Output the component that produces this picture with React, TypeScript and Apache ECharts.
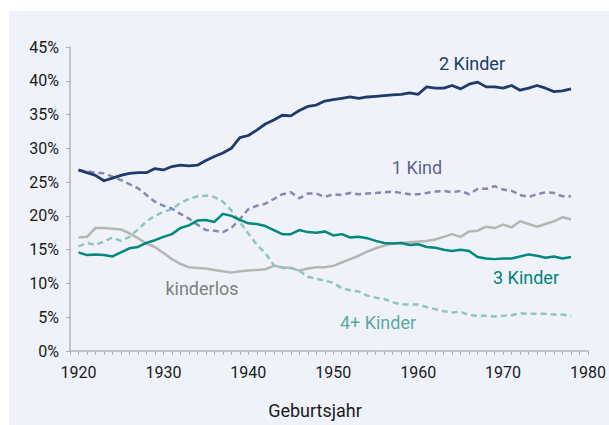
import React, { useEffect, useRef } from "react";
import * as echarts from "echarts";

const years: number[] = [];
for (let y = 1920; y <= 1978; y++) years.push(y);

const twoKinder = [
  26.8, 26.4, 26.0, 25.2, 25.6, 26.0, 26.3, 26.4, 26.4, 27.0,
  26.8, 27.3, 27.5, 27.4, 27.5, 28.2, 28.8, 29.3, 30.0, 31.6,
  31.9, 32.7, 33.6, 34.2, 34.9, 34.8, 35.6, 36.2, 36.4, 37.0,
  37.2, 37.4, 37.6, 37.4, 37.6, 37.7, 37.8, 37.9, 38.0, 38.2,
  38.0, 39.1, 38.9, 38.9, 39.3, 38.8, 39.5, 39.8, 39.1, 39.1,
  38.9, 39.3, 38.6, 38.9, 39.3, 38.9, 38.4, 38.5, 38.8,
];
const oneKind = [
  26.7, 26.6, 26.4, 26.3, 25.8, 25.3, 24.7, 24.1, 23.1, 22.1,
  21.5, 21.1, 20.3, 19.6, 18.7, 17.9, 17.8, 17.6, 18.2, 19.5,
  21.0, 21.5, 21.8, 22.5, 23.2, 23.5, 22.6, 23.3, 23.3, 22.8,
  23.2, 23.1, 23.4, 23.2, 23.3, 23.4, 23.5, 23.6, 23.4, 23.2,
  23.2, 23.4, 23.6, 23.7, 23.5, 23.7, 23.2, 24.0, 24.0, 24.4,
  23.9, 23.7, 23.1, 22.8, 23.2, 23.5, 23.4, 22.9, 22.9,
];
const threeKinder = [
  14.6, 14.2, 14.3, 14.2, 14.0, 14.6, 15.2, 15.4, 16.0, 16.4,
  16.9, 17.3, 18.2, 18.6, 19.3, 19.4, 19.1, 20.3, 20.0, 19.4,
  18.9, 18.8, 18.5, 17.9, 17.3, 17.3, 17.9, 17.6, 17.5, 17.7,
  17.1, 17.3, 16.8, 16.9, 16.7, 16.3, 16.0, 15.9, 16.0, 15.7,
  15.8, 15.4, 15.3, 15.0, 14.8, 15.0, 14.8, 13.9, 13.7, 13.6,
  13.7, 13.7, 14.0, 14.3, 14.1, 13.8, 14.0, 13.7, 13.9,
];
const fourPlusKinder = [
  15.5, 16.0, 15.7, 16.2, 16.8, 16.3, 16.9, 18.0, 19.2, 20.0,
  20.6, 21.0, 21.9, 22.5, 22.9, 23.0, 22.8, 22.1, 20.8, 19.1,
  17.4, 15.7, 14.5, 12.7, 12.3, 12.3, 11.9, 11.0, 10.7, 10.4,
  10.1, 9.3, 9.0, 8.8, 8.2, 7.9, 7.7, 7.2, 6.9, 6.9,
  6.9, 6.5, 6.2, 5.9, 5.7, 5.8, 5.3, 5.2, 5.2, 5.1,
  5.2, 5.3, 5.6, 5.5, 5.5, 5.5, 5.4, 5.4, 5.2,
];
const kinderlos = [
  16.8, 16.9, 18.2, 18.2, 18.1, 18.0, 17.4, 16.7, 15.9, 15.4,
  14.5, 13.6, 12.9, 12.4, 12.3, 12.2, 12.0, 11.8, 11.6, 11.8,
  11.9, 12.0, 12.1, 12.6, 12.4, 12.3, 11.9, 12.2, 12.4, 12.4,
  12.6, 13.1, 13.6, 14.1, 14.7, 15.2, 15.6, 15.9, 16.0, 16.1,
  16.2, 16.3, 16.5, 16.9, 17.3, 16.9, 17.7, 17.8, 18.4, 18.2,
  18.7, 18.3, 19.2, 18.8, 18.4, 18.8, 19.2, 19.8, 19.5,
];

const FONT = "Roboto, 'Noto Sans', sans-serif";
const AXIS_GRAY = "#b3b3b3";

const toPairs = (vals: number[]) => vals.map((v, i) => [years[i], v]);

export default function App() {
  const ref = useRef<HTMLDivElement>(null);
  useEffect(() => {
    document.body.style.margin = "0";
    if (!ref.current) return;
    const chart = echarts.init(ref.current, undefined, { renderer: "svg" });
    const lineSeries = (
      name: string,
      vals: number[],
      color: string,
      width: number,
      dashed: boolean,
      z: number
    ) => ({
      name,
      type: "line",
      data: toPairs(vals),
      showSymbol: false,
      symbol: "none",
      z,
      lineStyle: { color, width, type: dashed ? [6, 4] : "solid", cap: "butt", join: "round" },
    });
    chart.setOption({
      animation: false,
      backgroundColor: "#ffffff",
      textStyle: { fontFamily: FONT },
      grid: { left: 70, right: 18, top: 47, bottom: 74, containLabel: false },
      xAxis: {
        type: "value",
        min: 1919,
        max: 1980,
        interval: 1,
        axisLine: { show: true, lineStyle: { color: AXIS_GRAY, width: 1.5 } },
        axisTick: { show: true, length: 4, lineStyle: { color: AXIS_GRAY, width: 1 } },
        axisLabel: {
          color: "#1a1a1a",
          fontSize: 16,
          fontFamily: FONT,
          margin: 13,
          formatter: (v: number) => (v % 10 === 0 ? String(v) : ""),
        },
        splitLine: { show: false },
      },
      yAxis: {
        type: "value",
        min: 0,
        max: 45,
        interval: 5,
        axisLine: { show: true, lineStyle: { color: AXIS_GRAY, width: 1.5 } },
        axisTick: { show: true, length: 4, lineStyle: { color: AXIS_GRAY, width: 1 } },
        axisLabel: {
          color: "#1a1a1a",
          fontSize: 16,
          fontFamily: FONT,
          margin: 11,
          formatter: "{value}%",
        },
        splitLine: { show: false },
      },
      graphic: [
        {
          type: "rect",
          z: -100,
          silent: true,
          shape: { x: 9, y: 11, width: 600, height: 414 },
          style: { fill: "#eff3f9" },
        },
        {
          type: "text",
          x: 315,
          y: 410,
          style: { text: "Geburtsjahr", fill: "#1a1a1a", font: `18px ${FONT}`, align: "center", verticalAlign: "middle" },
        },
        {
          type: "text",
          x: 472,
          y: 63,
          style: { text: "2 Kinder", fill: "#203a6c", font: `18px ${FONT}`, align: "center", verticalAlign: "middle" },
        },
        {
          type: "text",
          x: 417,
          y: 167,
          style: { text: "1 Kind", fill: "#5d6492", font: `18px ${FONT}`, align: "center", verticalAlign: "middle" },
        },
        {
          type: "text",
          x: 526,
          y: 277,
          style: { text: "3 Kinder", fill: "#00857a", font: `18px ${FONT}`, align: "center", verticalAlign: "middle" },
        },
        {
          type: "text",
          x: 378,
          y: 322,
          style: { text: "4+ Kinder", fill: "#5ca99f", font: `18px ${FONT}`, align: "center", verticalAlign: "middle" },
        },
        {
          type: "text",
          x: 202,
          y: 288,
          style: { text: "kinderlos", fill: "#808080", font: `18px ${FONT}`, align: "center", verticalAlign: "middle" },
        },
      ],
      series: [
        lineSeries("kinderlos", kinderlos, "#b5b5b5", 2.5, false, 2),
        lineSeries("4+ Kinder", fourPlusKinder, "#8fc5bd", 2.5, true, 3),
        lineSeries("1 Kind", oneKind, "#8589b1", 2.5, true, 4),
        lineSeries("3 Kinder", threeKinder, "#00897c", 2.5, false, 5),
        lineSeries("2 Kinder", twoKinder, "#1f3a6d", 2.8, false, 6),
      ],
    });
    return () => chart.dispose();
  }, []);
  return <div ref={ref} style={{ width: 609, height: 425 }} />;
}
